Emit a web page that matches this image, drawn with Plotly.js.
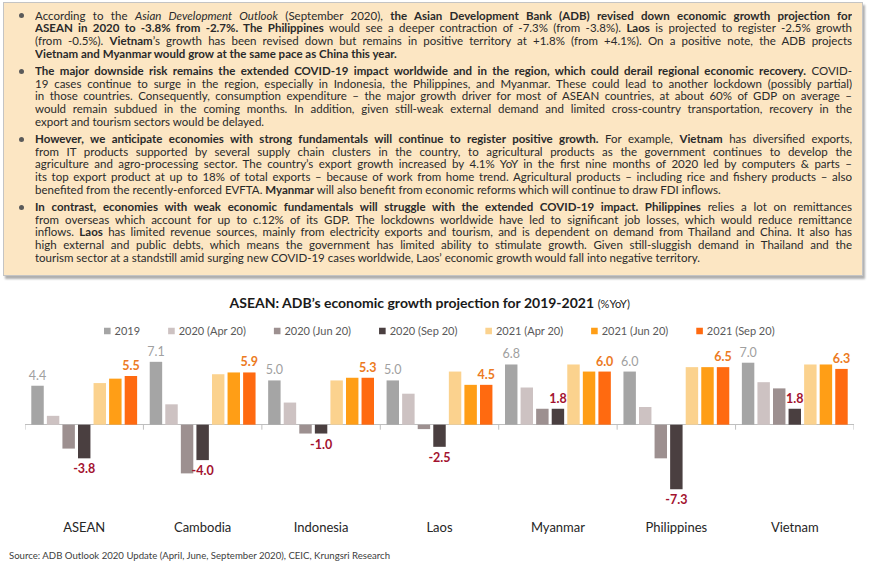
<!DOCTYPE html>
<html>
<head>
<meta charset="utf-8">
<script src="https://cdn.plot.ly/plotly-3.0.1.min.js"></script>
<style>
  body { margin:0; background:#fff; }
  #wrap { position:relative; width:870px; height:567px; overflow:hidden; }
  #chart { position:absolute; left:0; top:0; width:870px; height:567px; }
  #box { position:absolute; left:3px; top:2px; width:860px; height:274px; box-sizing:border-box;
         background:#FCE6C3; border:1px solid #C4C4C4; box-shadow:2px 3px 2px #AFAFAF;
         padding:6.6px 10px 0 31px; font-family:Lato, "Open Sans", sans-serif; font-size:11.5px; color:#2a2a2a; }
  .para { position:relative; margin-bottom:4px; }
  .bul { position:absolute; left:-16.5px; top:3.9px; width:5px; height:5px; border-radius:50%; background:#5a5a5a; }
  .ln { height:12.8px; line-height:12.8px; overflow:hidden; }
  .j { text-align:justify; text-align-last:justify; }
</style>
</head>
<body>
<div id="wrap">
  <div id="chart"></div>
  <div id="box"></div>
</div>
<script>
// ---- data ----
const categories = ['ASEAN','Cambodia','Indonesia','Laos','Myanmar','Philippines','Vietnam'];
const seriesNames = ['2019','2020 (Apr 20)','2020 (Jun 20)','2020 (Sep 20)','2021 (Apr 20)','2021 (Jun 20)','2021 (Sep 20)'];
const gdp2019  = [4.4, 7.1, 5.0, 5.0, 6.8, 6.0, 7.0];
const f2020Apr = [1.0, 2.3, 2.5, 3.5, 4.2, 2.0, 4.8];
const f2020Jun = [-2.7, -5.5, -1.0, -0.5, 1.8, -3.8, 4.1];
const f2020Sep = [-3.8, -4.0, -1.0, -2.5, 1.8, -7.3, 1.8];
const f2021Apr = [4.7, 5.7, 5.0, 6.0, 6.8, 6.5, 6.8];
const f2021Jun = [5.2, 5.9, 5.3, 4.5, 6.0, 6.5, 6.8];
const f2021Sep = [5.5, 5.9, 5.3, 4.5, 6.0, 6.5, 6.3];

const titleText = '<b>ASEAN: ADB’s economic growth projection for 2019-2021</b> <span style="font-size:11px">(%YoY)</span>';
const sourceText = 'Source: ADB Outlook 2020 Update (April, June, September 2020), CEIC, Krungsri Research';

const paragraphs = [
 [
  'According to the <i>Asian Development Outlook</i> (September 2020), <b>the Asian Development Bank (ADB) revised down economic growth projection for</b>',
  '<b>ASEAN in 2020 to -3.8% from -2.7%. The Philippines</b> would see a deeper contraction of -7.3% (from -3.8%). <b>Laos</b> is projected to register -2.5% growth',
  '(from -0.5%). <b>Vietnam</b>’s growth has been revised down but remains in positive territory at +1.8% (from +4.1%). On a positive note, the ADB projects',
  '<b>Vietnam and Myanmar would grow at the same pace as China this year.</b>'
 ],
 [
  '<b>The major downside risk remains the extended COVID-19 impact worldwide and in the region, which could derail regional economic recovery.</b> COVID-',
  '19 cases continue to surge in the region, especially in Indonesia, the Philippines, and Myanmar. These could lead to another lockdown (possibly partial)',
  'in those countries. Consequently, consumption expenditure – the major growth driver for most of ASEAN countries, at about 60% of GDP on average –',
  'would remain subdued in the coming months. In addition, given still-weak external demand and limited cross-country transportation, recovery in the',
  'export and tourism sectors would be delayed.'
 ],
 [
  '<b>However, we anticipate economies with strong fundamentals will continue to register positive growth.</b> For example, <b>Vietnam</b> has diversified exports,',
  'from IT products supported by several supply chain clusters in the country, to agricultural products as the government continues to develop the',
  'agriculture and agro-processing sector. The country’s export growth increased by 4.1% YoY in the first nine months of 2020 led by computers &amp; parts –',
  'its top export product at up to 18% of total exports – because of work from home trend. Agricultural products – including rice and fishery products – also',
  'benefited from the recently-enforced EVFTA. <b>Myanmar</b> will also benefit from economic reforms which will continue to draw FDI inflows.'
 ],
 [
  '<b>In contrast, economies with weak economic fundamentals will struggle with the extended COVID-19 impact. Philippines</b> relies a lot on remittances',
  'from overseas which account for up to c.12% of its GDP. The lockdowns worldwide have led to significant job losses, which would reduce remittance',
  'inflows. <b>Laos</b> has limited revenue sources, mainly from electricity exports and tourism, and is dependent on demand from Thailand and China. It also has',
  'high external and public debts, which means the government has limited ability to stimulate growth. Given still-sluggish demand in Thailand and the',
  'tourism sector at a standstill amid surging new COVID-19 cases worldwide, Laos’ economic growth would fall into negative territory.'
 ]
];

// ---- text box ----
const box = document.getElementById('box');
paragraphs.forEach(p => {
  const d = document.createElement('div');
  d.className = 'para';
  let html = '<span class="bul"></span>';
  p.forEach((ln, i) => {
    html += '<div class="ln' + (i < p.length - 1 ? ' j' : '') + '">' + ln + '</div>';
  });
  d.innerHTML = html;
  box.appendChild(d);
});

// ---- chart ----
const colors = ['#A5A5A5','#CDC2C2','#9D9090','#4A3F40','#FBD28E','#FF9E16','#FF6A10'];
const values = [gdp2019, f2020Apr, f2020Jun, f2020Sep, f2021Apr, f2021Jun, f2021Sep];
const labelStyle = {
  0: {color:'#A0A0A0', weight:400},
  3: {color:'#A3122F', weight:700},
  6: {color:'#EC7A23', weight:700}
};

const FONT = 'Lato, "Open Sans", sans-serif';
const traces = values.map((v, i) => {
  const t = {
    type:'bar', name: seriesNames[i], x: categories, y: v,
    marker:{color: colors[i]},
    hoverinfo:'x+y+name'
  };
  if (labelStyle[i]) {
    t.texttemplate = '%{y:.1f}';
    t.textposition = 'outside';
    t.constraintext = 'none';
    t.cliponaxis = false;
    t.textfont = {family: FONT, size: 12.5, color: labelStyle[i].color, weight: labelStyle[i].weight};
  } else {
    t.textposition = 'none';
  }
  return t;
});

const W = 870, H = 567;
const M = {l:25, r:16, t:345, b:52, autoexpand:false};
const plotW = W - M.l - M.r, plotH = H - M.t - M.b;
const xPaper = px => (px - M.l) / plotW;
const yPaper = py => (H - M.b - py) / plotH;
const yRange = [-10.2, 9.0];
const tickLen = 5 * (yRange[1] - yRange[0]) / plotH;

const shapes = [];
for (let i = 0; i <= categories.length; i++) {
  shapes.push({type:'line', xref:'x', yref:'y', x0:i-0.5, x1:i-0.5, y0:0, y1:-tickLen,
               line:{color:'#BFBFBF', width:1}, layer:'below'});
}

const LEG_X = 86;
const layout = {
  width: W, height: H, margin: M,
  paper_bgcolor:'#ffffff', plot_bgcolor:'#ffffff',
  font:{family: FONT, color:'#404040'},
  barmode:'group', bargap:0.08, bargroupgap:0.2,
  title:{text: titleText, x: 0.494, xanchor:'center', xref:'container',
         y: 1 - 303/H, yanchor:'middle', yref:'container',
         font:{family: FONT, size:14, color:'#1a1a1a'}},
  showlegend:true,
  legend:{orientation:'h', x: xPaper(LEG_X), xanchor:'left',
          y: yPaper(331), yanchor:'middle', font:{family: FONT, size:11, color:'#595959'},
          bgcolor:'rgba(0,0,0,0)', traceorder:'normal'},
  xaxis:{type:'category', range:[-0.5, categories.length - 0.5], showline:false, showgrid:false,
         zeroline:false, ticks:'', ticklabelstandoff:3, tickfont:{family: FONT, size:13, color:'#262626'}},
  yaxis:{range: yRange, showgrid:false, showline:false, showticklabels:false, ticks:'',
         zeroline:true, zerolinecolor:'#BFBFBF', zerolinewidth:1},
  shapes: shapes,
  annotations:[{text: sourceText, xref:'paper', yref:'paper', x: xPaper(7), y: yPaper(555),
                xanchor:'left', yanchor:'middle', showarrow:false,
                font:{family: FONT, size:9.6, color:'#404040'}}]
};

// compact legend styling: small square swatches close to their text
function compactLegend(gd) {
  const items = gd.querySelectorAll('.legend .traces');
  const half = 3.3, symCenter = 20, textGapAfter = 4, itemGap = 28;
  const firstSwatchLeft = 104;
  // legend group offset relative to page
  const legendBox = gd.querySelector('.legend').getBoundingClientRect();
  const wrapBox = gd.getBoundingClientRect();
  let cursor = firstSwatchLeft - (legendBox.left - wrapBox.left); // swatch left edge, in legend coords
  items.forEach(g => {
    g.querySelectorAll('.legendpoints path').forEach(p => {
      p.setAttribute('d', `M${half},${half}H${-half}V${-half}H${half}Z`);
    });
    const txt = g.querySelector('text.legendtext');
    const tr = g.getAttribute('transform') || '';
    const m = tr.match(/translate\(([-\d.]+)[ ,]*([-\d.]*)\)/);
    const ty = m ? parseFloat(m[2] || 0) : 0;
    const tx = cursor - (symCenter - half);
    g.setAttribute('transform', `translate(${tx},${ty})`);
    const textX = symCenter + half + textGapAfter;
    txt.setAttribute('x', textX);
    txt.querySelectorAll('tspan').forEach(s => { if (s.hasAttribute('x')) s.setAttribute('x', textX); });
    const tw = txt.getComputedTextLength();
    cursor = cursor + 2 * half + textGapAfter + tw + itemGap;
  });
}

Plotly.newPlot('chart', traces, layout, {displayModeBar:false, staticPlot:true})
  .then(gd => compactLegend(gd));
</script>
</body>
</html>
